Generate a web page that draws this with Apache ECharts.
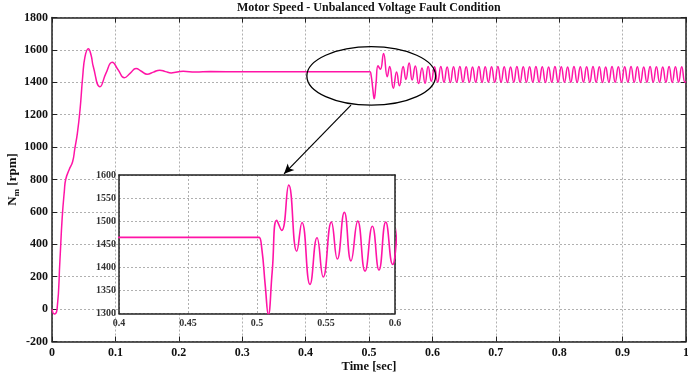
<!DOCTYPE html>
<html>
<head>
<meta charset="utf-8">
<script src="https://cdn.jsdelivr.net/npm/echarts@6/dist/echarts.min.js"></script>
<style>
  html, body { margin: 0; padding: 0; background: #fff; }
  #chart { width: 688px; height: 374px; }
</style>
</head>
<body>
<div id="chart"></div>
<script>
// time [sec] and motor speed [rpm]
const time = [
  0, 0.0035, 0.008, 0.0125, 0.016, 0.0195, 0.0216, 0.027, 0.0325, 0.036,
  0.040, 0.0442, 0.0484, 0.052, 0.0573, 0.0615, 0.0652, 0.0757, 0.085, 0.095,
  0.1045, 0.114, 0.1235, 0.1325, 0.141, 0.150, 0.160, 0.170, 0.179, 0.188,
  0.207, 0.226, 0.25, 0.3, 0.35, 0.4, 0.45, 0.5, 0.5015,
  // fault at 0.5 s
  0.5035, 0.506, 0.5082, 0.511, 0.5143, 0.5179, 0.523, 0.5288, 0.5326, 0.5384,
  0.5435, 0.548, 0.5539, 0.5582, 0.5633, 0.5681, 0.573, 0.5783, 0.5836, 0.5884,
  0.5933, 0.5983,
  // steady 100 Hz ripple
  0.6033, 0.6083, 0.6133, 0.6183, 0.6233, 0.6283, 0.6333, 0.6383, 0.6433, 0.6483,
  0.6533, 0.6583, 0.6633, 0.6683, 0.6733, 0.6783, 0.6833, 0.6883, 0.6933, 0.6983,
  0.7033, 0.7083, 0.7133, 0.7183, 0.7233, 0.7283, 0.7333, 0.7383, 0.7433, 0.7483,
  0.7533, 0.7583, 0.7633, 0.7683, 0.7733, 0.7783, 0.7833, 0.7883, 0.7933, 0.7983,
  0.8033, 0.8083, 0.8133, 0.8183, 0.8233, 0.8283, 0.8333, 0.8383, 0.8433, 0.8483,
  0.8533, 0.8583, 0.8633, 0.8683, 0.8733, 0.8783, 0.8833, 0.8883, 0.8933, 0.8983,
  0.9033, 0.9083, 0.9133, 0.9183, 0.9233, 0.9283, 0.9333, 0.9383, 0.9433, 0.9483,
  0.9533, 0.9583, 0.9633, 0.9683, 0.9733, 0.9783, 0.9833, 0.9883, 0.9933, 0.9983,
  1.0
];
const speed = [
  0, -30, 0, 300, 560, 730, 800, 860, 910, 990,
  1085, 1230, 1434, 1557, 1607, 1570, 1496, 1372, 1455, 1523,
  1476, 1428, 1457, 1485, 1468, 1450, 1463, 1475, 1466, 1458,
  1468, 1463, 1466, 1465, 1465, 1465, 1465, 1465, 1465,
  1440, 1360, 1298, 1390, 1502, 1480, 1578, 1435, 1497, 1363,
  1464, 1379, 1498, 1418, 1519, 1414, 1500, 1392, 1489, 1394,
  1498, 1406,
  1496, 1401, 1497, 1400, 1495, 1399, 1496, 1400, 1497, 1401,
  1496, 1400, 1495, 1400, 1497, 1399, 1496, 1401, 1496, 1400,
  1497, 1400, 1496, 1399, 1495, 1401, 1497, 1400, 1496, 1400,
  1496, 1401, 1497, 1400, 1496, 1399, 1495, 1400, 1497, 1401,
  1496, 1400, 1495, 1400, 1497, 1399, 1496, 1401, 1496, 1400,
  1497, 1400, 1496, 1399, 1495, 1401, 1497, 1400, 1496, 1400,
  1496, 1401, 1497, 1400, 1496, 1399, 1495, 1400, 1497, 1401,
  1496, 1400, 1495, 1400, 1497, 1399, 1496, 1401, 1496, 1400,
  1405
];

const mainXTicks = ['0', '0.1', '0.2', '0.3', '0.4', '0.5', '0.6', '0.7', '0.8', '0.9', '1'];
const insetXTicks = ['0.4', '0.45', '0.5', '0.55', '0.6'];

const data = time.map((t, i) => [t, speed[i]]);

const serif = '"Liberation Serif", "DejaVu Serif", serif';
const lineColor = '#ff14a6';

const chart = echarts.init(document.getElementById('chart'));

const gridLine = { show: true, lineStyle: { color: '#b0b0b0', type: [2, 2], width: 1 } };
const boxLine = { show: true, onZero: false, lineStyle: { color: '#222', width: 1.5 } };
const mainLabel = { color: '#111', fontFamily: serif, fontWeight: 'bold', fontSize: 12 };
const insetLabel = { color: '#333', fontFamily: serif, fontWeight: 'bold', fontSize: 10 };
const plain = (v) => String(v);

const option = {
  animation: false,
  backgroundColor: '#fff',
  title: {
    text: 'Motor Speed - Unbalanced Voltage Fault Condition',
    left: 237,
    top: 2,
    padding: 0,
    textStyle: { fontFamily: serif, fontWeight: 'bold', fontSize: 12, color: '#111' }
  },
  grid: [
    { left: 52, right: 2, top: 17.5, bottom: 32.5, outerBoundsMode: 'none', containLabel: false },
    { left: 119, top: 175, width: 276, height: 138.5, show: true, outerBoundsMode: 'none', containLabel: false,
      backgroundColor: '#fff', borderWidth: 0, z: 5 }
  ],
  xAxis: [
    {
      type: 'value', gridIndex: 0, min: 0, max: 1, interval: 0.1,
      axisLine: boxLine,
      axisTick: { show: true, inside: true, length: 5, lineStyle: { color: '#222' } },
      axisLabel: Object.assign({ margin: 5, formatter: (v) => mainXTicks[Math.round(v * 10)] }, mainLabel),
      splitLine: gridLine,
      name: 'Time [sec]', nameLocation: 'middle', nameGap: 19, nameMoveOverlap: false,
      nameTextStyle: { fontFamily: serif, fontWeight: 'bold', fontSize: 12.5, color: '#111' }
    },
    {
      type: 'value', gridIndex: 0, min: 0, max: 1, interval: 0.1, position: 'top',
      axisLine: boxLine,
      axisTick: { show: true, inside: true, length: 5, lineStyle: { color: '#222' } },
      axisLabel: { show: false }, splitLine: { show: false }
    },
    {
      type: 'value', gridIndex: 1, min: 0.4, max: 0.6, interval: 0.05, z: 6,
      axisLine: boxLine,
      axisTick: { show: false },
      axisLabel: Object.assign({ margin: 5, formatter: (v) => insetXTicks[Math.round((v - 0.4) / 0.05)] }, insetLabel),
      splitLine: gridLine
    },
    {
      type: 'value', gridIndex: 1, min: 0.4, max: 0.6, interval: 0.05, position: 'top', z: 6,
      axisLine: boxLine, axisTick: { show: false }, axisLabel: { show: false }, splitLine: { show: false }
    }
  ],
  yAxis: [
    {
      type: 'value', gridIndex: 0, min: -200, max: 1800, interval: 200,
      axisLine: boxLine,
      axisTick: { show: true, inside: true, length: 5, lineStyle: { color: '#222' } },
      axisLabel: Object.assign({ margin: 4, formatter: plain }, mainLabel),
      splitLine: gridLine,
      name: '{n|N}{s|m}{n| [rpm]}', nameLocation: 'middle', nameGap: 31, nameMoveOverlap: false,
      nameTextStyle: {
        rich: {
          n: { fontFamily: serif, fontWeight: 'bold', fontSize: 13, color: '#111' },
          s: { fontFamily: serif, fontWeight: 'bold', fontSize: 9, color: '#111', padding: [8, 0, 0, 0] }
        }
      }
    },
    {
      type: 'value', gridIndex: 0, min: -200, max: 1800, interval: 200, position: 'right',
      axisLine: boxLine,
      axisTick: { show: true, inside: true, length: 5, lineStyle: { color: '#222' } },
      axisLabel: { show: false }, splitLine: { show: false }
    },
    {
      type: 'value', gridIndex: 1, min: 1300, max: 1600, interval: 50, z: 6,
      axisLine: boxLine, axisTick: { show: false },
      axisLabel: Object.assign({ margin: 3, formatter: plain }, insetLabel),
      splitLine: gridLine
    },
    {
      type: 'value', gridIndex: 1, min: 1300, max: 1600, interval: 50, position: 'right', z: 6,
      axisLine: boxLine, axisTick: { show: false }, axisLabel: { show: false }, splitLine: { show: false }
    }
  ],
  series: [
    {
      type: 'line', xAxisIndex: 0, yAxisIndex: 0, data: data,
      smooth: 0.5, showSymbol: false, symbol: 'none',
      lineStyle: { color: lineColor, width: 1.5 },
      markLine: {
        silent: true, symbol: ['none', 'arrow'], symbolSize: [7, 10],
        label: { show: false },
        lineStyle: { color: '#000', width: 1.2, type: 'solid' },
        data: [[{ coord: [0.4716, 1259] }, { coord: [0.366, 835] }]]
      }
    },
    {
      type: 'line', xAxisIndex: 2, yAxisIndex: 2, data: data, z: 7,
      smooth: 0.5, showSymbol: false, symbol: 'none', clip: true,
      lineStyle: { color: lineColor, width: 1.6 }
    }
  ]
};

chart.setOption(option);

// zoom ellipse around the fault region
const p1 = chart.convertToPixel({ seriesIndex: 0 }, [0.402, 1620]);
const p2 = chart.convertToPixel({ seriesIndex: 0 }, [0.605, 1259]);
chart.setOption({
  graphic: [{
    type: 'ellipse', z: 10,
    shape: { cx: (p1[0] + p2[0]) / 2, cy: (p1[1] + p2[1]) / 2, rx: (p2[0] - p1[0]) / 2, ry: (p2[1] - p1[1]) / 2 },
    style: { fill: null, stroke: '#000', lineWidth: 1.3 }
  }]
});
</script>
</body>
</html>
